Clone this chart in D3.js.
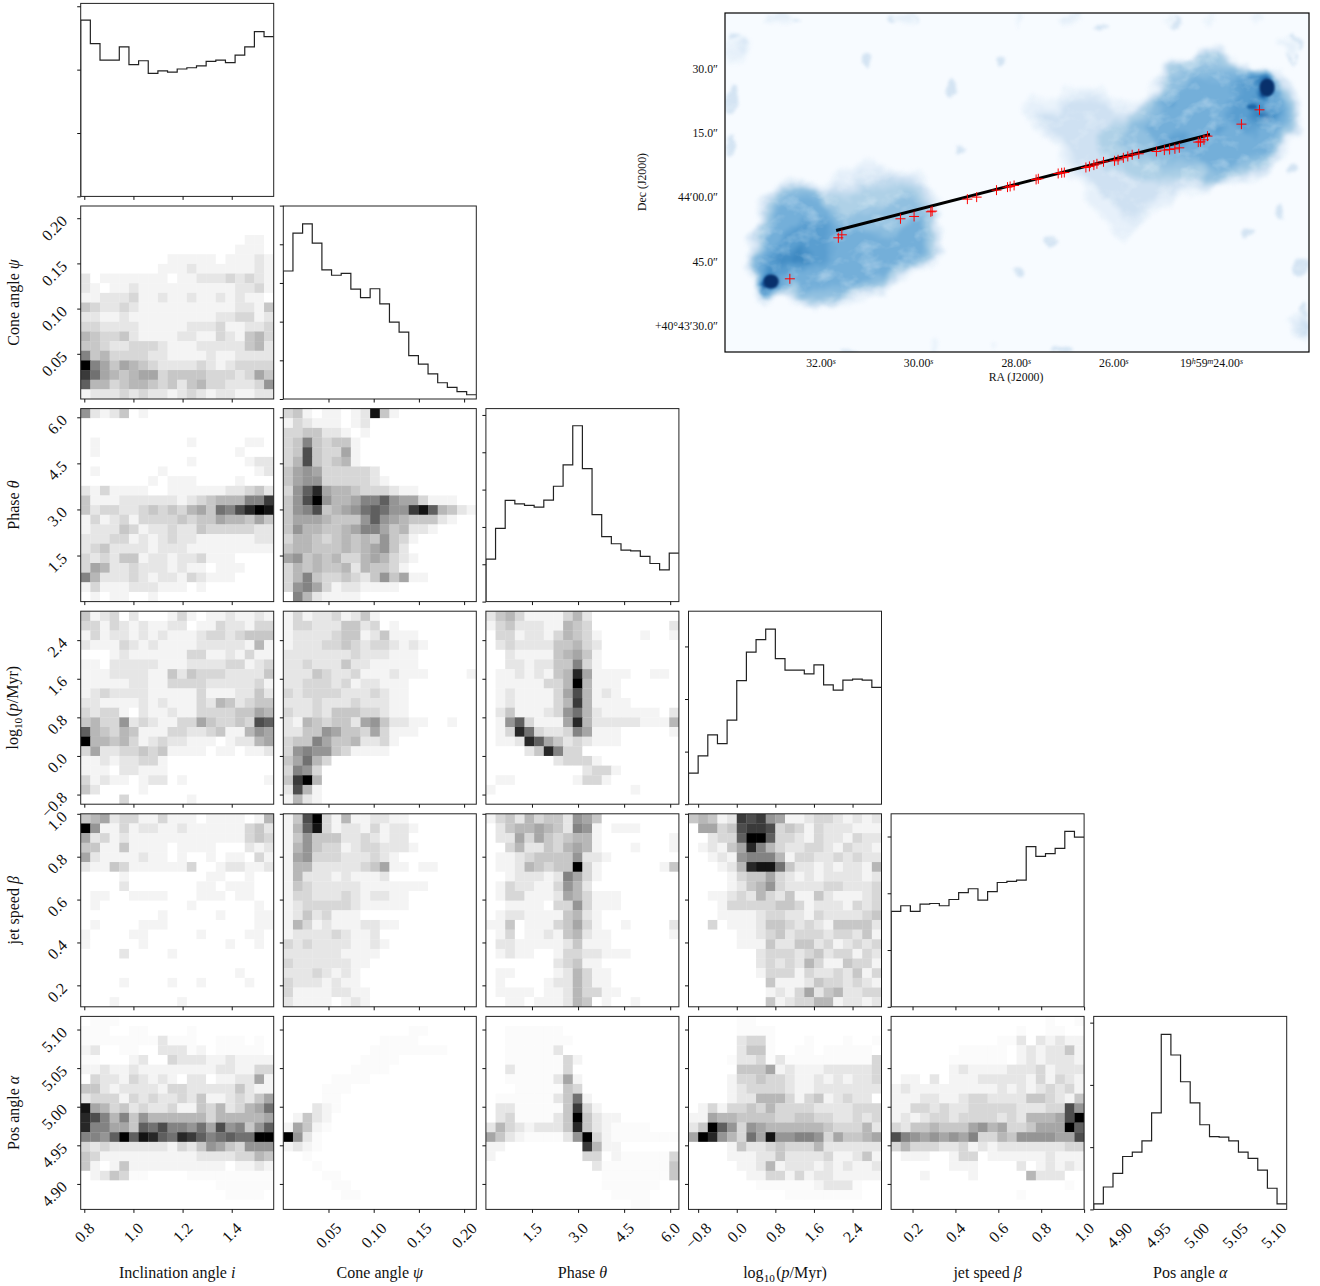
<!DOCTYPE html>
<html><head><meta charset="utf-8">
<script src="https://cdn.jsdelivr.net/npm/d3@7"></script>
<style>html,body{margin:0;padding:0;background:#fff}svg{display:block}text{font-family:"Liberation Serif",serif;fill:#111}</style>
</head><body><svg id="c" width="1320" height="1286"></svg>
<script>
const paramNames = ["i","psi","theta","logp","beta","alpha"];
const paramLabels = ["Inclination angle |i|","Cone angle |ψ|","Phase |θ|","log_10_(|p|/Myr)","jet speed |β|","Pos angle |α|"];
const domains = [[0.7854,1.5708],[0,0.2135],[0,6.2832],[-1,3],[0.1,1.0],[4.867,5.117]];
const ticksI = [0.8,1.0,1.2,1.4];
const ticksPsi = [0.05,0.10,0.15,0.20];
const ticksTheta = [1.5,3.0,4.5,6.0];
const ticksLogp = [-0.8,0.0,0.8,1.6,2.4];
const ticksBeta = [0.2,0.4,0.6,0.8,1.0];
const ticksAlpha = [4.90,4.95,5.00,5.05,5.10];
const tickDigits = [1,2,1,1,1,2];

const histI = [278,241,215,215,236,208,214,194,198,196,201,203,206,213,215,211,223,236,260,252];
const histPsi = [331,429,453,403,334,320,325,284,262,285,246,199,173,112,90,65,42,30,19,11];
const histTheta = [114,196,271,262,258,253,272,309,366,471,356,233,174,155,138,136,121,102,85,130];
const histLogp = [59,92,132,115,160,235,289,313,333,277,255,255,248,265,227,217,236,238,236,222];
const histBeta = [168,178,168,181,182,178,189,201,208,188,203,219,221,223,282,265,270,279,309,299];
const histAlpha = [9,36,58,85,92,110,155,281,248,205,171,136,117,116,110,92,82,63,34,9];
const histTop = [304.5,499,517,367,340,310];
const histTicks = [[0,100,200,300],[0,100,200,300,400,500],[0,100,200,300,400,500],[0,100,200,300],[0,100,200,300],[0,100,200,300]];

const psi_i = ["00000000000000000000","00000000000000000000","00000000000000000000","00000000000000000110","00000000000000001110","00000000011111011121","00000000111211111121","20111111101122232321","21011211111111112231","11222311211211212110","43223211111111112214","22112111111111223312","33222211111222311223","54334211112211321453","44322333211122222452","84533332211112112222","f8646543222232123333","c9654566344443332364","a5534554342453322237","12223232212321221122"];
const theta_i = ["72124010000000000000","00000000000000000000","00000000000000000000","01000000000100000110","01000000000000001000","00000000000100000122","01000000100000000012","00000001011100001000","21311110011111122342","4111222222123455588c","4233223434356498bdfe","13123133334344655464","12224312232243333322","22233121232211111122","23422221222111111111","32324412212231110000","36522322212110111000","85222321221321110000","13111222111010000000","01011001000000000000"];
const theta_psi = ["341011012e4100000000","13211101200000000000","33442210100000000000","34843441000000000000","34b43361000000000000","35b43451000000000000","46763333320000000000","46773333321000000000","37ad6554333211000000","47bf755688a766311100","478b45679a977cea5421","466654447a7654442100","47554456886452210000","35543454547431000000","45544454567420000000","67454533565321000000","35454452544310000000","35843343247461100000","37863122111100000000","08521111000000000000"];
const logp_i = ["41230200013101121121","33132121122011322133","13122121211123323444","21113212111122222151","00012111111331121311","11022222111222233123","11122221142433322224","11111221133332222231","12322221111131112242","22111121211132542344","32331021121133334465","453372321133643343ba","a5435411133223411576","f5545312322111012256","36223343411110110112","11212233100000000000","11102211100000000000","31211012201000000001","42000010000000000000","00003000000100000000"];
const logp_psi = ["13122312410000000000","13322244230100000000","12222344124111000000","12223343233212100000","22222223222111000000","22322242211111000000","22243223111211100001","22333231221110000000","32333322232110000000","22232223222110000000","32232444332110000000","21543442674221100100","22447644363111000000","34486445223100000000","37877431111000000000","46953000000000000000","38730000000000000000","4cf50000000000000000","2b510000000000000000","15210000000000000000"];
const logp_theta = ["24531111352000000000","13422211543000000002","03312213543100001001","02322224453200000000","00211114564100000000","00221224483100000000","011212145d6111100110","011111335f5111000000","012111136b5121000000","012111135c5111100000","02411123795211111102","017a31116d5222221115","013d9322386111000001","0112da64232111000000","000024d8330000000000","00000002333100000000","00000000002331000000","01100000013310000000","10000000000000010000","00000000000000000000"];
const beta_i = ["45623311311101111015","f7113122112111111342","62312111111111111343","44114111101111000212","62111121101001011031","21143111111300122112","00001000000001100100","00002000000011011100","01100111100011101100","01000000000100000010","00000000100000100011","01000011100000000011","10000110000010000110","10000010000000010010","00002000010000000000","00000000000000000000","00000000000000001000","00001000010010000100","00000000000000000000","00010000001000000000"];
const beta_psi = ["14bf3151122110000000","15ae3122131221000000","14744422321220000000","15743312332221000000","16733322232100000000","15522222346110110000","15222121112000000000","14322222111111100000","13322232122110000000","12333332111110000000","12423111000000000000","15312111221100000000","12222321120000000000","32322221121000000000","22222211110000000000","32222221100000000000","22232121000000000000","32221211000000000000","31111221100000000000","21111012100000000000"];
const beta_theta = ["13425344276400000000","02455654287101110000","02263643455100000001","00352243565100010001","01123444472210000000","011254344f3100000014","00122212863100000000","01322113752000000000","01331112653111000000","00111103373111000000","01221111452100000000","11401113463100100002","01301121452110000001","02211111241110000000","01211001332211100000","00000002341100000000","01100001253110000000","01000012253110000000","01111011253311000000","00110111254010010000"];
const beta_logp = ["45412cbc761123321212","06634bccb34313222111","00233affa33213221322","012146d8532233213221","00121788851332232322","000125dee94221212215","00001344632121222212","00001245732222332223","00112325324114211123","00013333344312221323","00011112332213222234","00301112443232144442","00000112342333233241","00000111422442312323","00000002333234233132","00000002323253114331","00000001333132232413","00000000411124332321","00000000121362452233","00000000412335512212"];
const alpha_i = ["0...0000000000000000","...00..0000.00000000","........2...00...0.0","1200..00222.10.....0","..000120032221121111","11211211111111221133","03221321210220112261","44212222133222224211","23331323223241123246","e6534232231143523569","db858475555553555556","d88664a9b88796b7847a","887afaeda9dca89a99ff","32322222213247643777","43111111111122223354","41014111111111101121","01243..0000.........","00000000000000......","000000000000000....0","00000000000000000000"];
const alpha_psi = ["00000000000000000000","0000000000000..00000","0000000000....000000","000000000........000","00000000....00000000","0000000....000000000","00000....00000000000","0000...0000000000000","0000..00000000000000","00021.00000000000000","01421000000000000000","1641.000000000000000","f72.0000000000000000","121.0000000000000000","00.00000000000000000","000.0000000000000000","0000..00000000000000","00000..0000000000000","000000..000000000000","00000000000000000000"];
const alpha_theta = ["00000000000000000000","00......000000000000","00.......00000000000","00.....2000000000000","00......310000000000","002.....300000000000","00.....2610000000000","000.....430000000000","0......2491000000000","022.....4c3100000000","023....24f4211000000","253212224d421....000","6421....27f31.......","1100000000c511000000","10000000003301.....3","000000000002.......4","000000000000.......4","000000000000......00","0000000000000....000","000000000000000..000"];
const alpha_logp = ["00000..0000000000000","00000....00000000000","00000233.000.000.00.","00000244.00..0.....0","0000.223.2.........3","00000444612111222223","00001334332112121223","00001233332112222222","00001225553134123220","01313343533332222333","11655444433443322323","24fa7376555555433352","6fd75396e77887364456","00001422343335222222","00001112242222311241","00000112512221212112","00000011331312211111","0000000......1222.00","0000000000........00","00000000000000000000"];
const alpha_beta = ["0000000000000000.00.","0000000000000.00..00","00000000000..2021211","0000000.....01212241","000000......01212221","00000012111122231222","01102011122222131321","12111111111212123231","11122112332222443214","113323223333322233b7","121233233332325556bf","324454446756334666fa","b876767683354777766b","35333223121222222233","01110013301111112111","00000011100002012121","00010000100000522200","000000000000000000.0","0000000000000.000000","00000000000000000000"];
const pairs = [
 [1,0,psi_i],[2,0,theta_i],[2,1,theta_psi],[3,0,logp_i],[3,1,logp_psi],[3,2,logp_theta],
 [4,0,beta_i],[4,1,beta_psi],[4,2,beta_theta],[4,3,beta_logp],
 [5,0,alpha_i],[5,1,alpha_psi],[5,2,alpha_theta],[5,3,alpha_logp],[5,4,alpha_beta]];

const raTicks = [32,30,28,26,24];
const raLabels = [["","32.00"],["","30.00"],["","28.00"],["","26.00"],["19h59m","24.00"]];
const decTicks = [30,15,0,-15,-30];
const decLabels = ["30.0″","15.0″","44′00.0″","45.0″","+40°43′30.0″"];
const jetLine = [[31.69,-7.7],[24.03,14.7]];
const knotRA = [32.638,31.645,31.573,30.372,30.093,29.75,29.723,29.001,28.811,28.405,28.179,28.125,28.044,27.593,27.548,27.141,27.069,27.015,26.573,26.501,26.41,26.347,26.212,25.986,25.914,25.806,25.715,25.625,25.49,25.129,24.966,24.858,24.75,24.66,24.271,24.226,24.154,24.082,23.387,23.017];
const knotDec = [-18.98,-9.41,-8.71,-4.97,-4.43,-3.34,-3.18,-0.38,0.09,1.72,2.42,2.58,2.81,4.21,4.37,5.61,5.77,5.84,7.01,7.25,7.56,7.87,8.33,8.57,8.8,9.27,9.58,9.97,10.2,10.75,11.06,11.21,11.37,11.6,12.93,13.0,13.47,14.33,17.13,20.47];
const hotRA = [22.86,33.02,23.17];
const hotDec = [25.7,-19.6,21.2];
const hotR = [[7.5,9],[7.5,7],[5,2.5]];
const patchRA = [33.74,33.84,32.84,30.32,24.73,22.29,22.39,29.32,31.08,22.14,22.10,25.89,27.96,33.84,31.41,27.06,23.27,27.3,28.33,26.28,22.6,22.39,29.15];
const patchDec = [35.96,22.65,41.3,41.8,40.9,35.96,32.7,25.4,31.5,-16.3,-28.7,-4.7,-17.7,11.7,-35.3,-35.3,-8.4,-10,32,39,-3,6.3,11];
const patchR = [[8,14],[6,15],[20,3],[14,6],[6,8],[6,8],[6,6],[5,10],[5,8],[6,10],[6,18],[8,8],[6,6],[5,12],[10,3],[10,3],[6,5],[5,4],[4,6],[8,3],[4,8],[5,6],[4,4]];
const skyColors = ["#f7fbff","#e6f0fa","#cfe1f2","#afd1e7","#91c0e0","#74afd9","#5a9ed0","#3d88c1","#1b62a8","#08306b"];
const skyGrid = [
"0001110000000011000000001000110000000100100010000",
"0000000000000000000000000000000000000000000000000",
"1200000000000000000000000000000000000000000000110",
"1100000000000000000000000000000000000003330000010",
"0000000000000000000000000000000000000344444300000",
"0000000000000000000000000000000000002445555678200",
"0000000000000000000000000000111100002455555669420",
"0000000000000000000000000111222211135655556676530",
"0000000000000000000000000122222222345555556678640",
"0000000000000000000000000012222233455555565665530",
"0000000000000000000000000001222334445665555555410",
"0000000000000000000000000000122333444555555555200",
"0000000000011000000000000000122233334444555443000",
"0000000001122222100000000000012222333333443210000",
"0000244312233333200000000000001222222211100000000",
"0002455533333344320000000000001122221100000000000",
"0003555554344444430000000000000112210000000000000",
"0004556665544445530000000000000011100000000000000",
"0035566665555555530000000000000001000000000000000",
"0025667665555555530000000000000000000000000000000",
"0046777665555555410000000000000000000000000000000",
"0027655555555531000000000000000000000000000000000",
"0009635555554300000000000000000000000000000000000",
"0002024444210000000000000000000000000000000000000",
"0000000100000000000000000000000000000000000000000",
"0000000000000000000000000000000000000000000000012",
"0000000000000000000000000000000000000000000000002",
"0000000000000000010000100000000000000000000000000"];

/* ---------- layout ---------- */
const svg = d3.select("#c");
const P = 193, STEP = 202.6, X0 = 80.7, Y0 = 3.4;
const left = c => X0 + c*STEP, top_ = r => Y0 + r*STEP;
const xS = domains.map(d => d3.scaleLinear().domain(d).range([0,P]));
const yS = domains.map(d => d3.scaleLinear().domain(d).range([P,0]));
const band = d3.scaleBand().domain(d3.range(20)).range([0,P]);
const grey = d3.scalePow().exponent(1.15).domain([0,15]).range([1,0]);
const allTicks = [ticksI,ticksPsi,ticksTheta,ticksLogp,ticksBeta,ticksAlpha];
const hists = [histI,histPsi,histTheta,histLogp,histBeta,histAlpha];
const fmt = (v,k) => { const s = Math.abs(v).toFixed(tickDigits[k]); return v<0 ? "−"+s : s; };
const FS = 16;

svg.append("defs").append("clipPath").attr("id","pclip").append("rect").attr("width",P).attr("height",P);

function axes(g,r,c){
  const ax = d3.axisBottom(xS[c]).tickValues(allTicks[c]).tickSize(3.5).tickSizeOuter(0).tickFormat("");
  const gx = g.append("g").attr("transform",`translate(0,${P})`).call(ax);
  gx.select(".domain").remove();
  return gx;
}
function styleTicks(sel){ sel.selectAll("line").attr("stroke","#111").attr("stroke-width",1); }
function frame(g){ g.append("rect").attr("width",P).attr("height",P).attr("fill","none").attr("stroke","#222").attr("stroke-width",1); }

/* diagonal histograms */
hists.forEach((h,k) => {
  const g = svg.append("g").attr("transform",`translate(${left(k)},${top_(k)})`);
  const y = d3.scaleLinear().domain([0,histTop[k]]).range([P,0]);
  const edge = d3.scaleLinear().domain([0,20]).range([0,P]);
  const pts = [[0,0]].concat(h.map((v,i)=>[i,v])).concat([[20,h[19]]]);
  const line = d3.line().curve(d3.curveStepAfter).x(d=>edge(d[0])).y(d=>y(d[1]));
  g.append("path").attr("d",line(pts)).attr("fill","none").attr("stroke","#222").attr("stroke-width",1.2).attr("clip-path","url(#pclip)");
  frame(g);
  const gy = g.append("g").call(d3.axisLeft(y).tickValues(histTicks[k]).tickSize(3.5).tickSizeOuter(0).tickFormat(""));
  gy.select(".domain").remove(); styleTicks(gy);
  if(k<5) styleTicks(axes(g,k,k));
});

/* 2-D histograms: "." is a barely visible cell, hex digits are darker levels */
pairs.forEach(([r,c,rows]) => {
  const g = svg.append("g").attr("transform",`translate(${left(c)},${top_(r)})`);
  const cells = [];
  rows.forEach((s,j)=>s.split("").forEach((ch,i)=>cells.push({i,j,v:ch==="."?0.4:parseInt(ch,16)})));
  g.selectAll("rect.cell").data(cells).join("rect").attr("class","cell")
    .attr("x",d=>band(d.i)).attr("y",d=>band(d.j)).attr("width",band.bandwidth()+0.3).attr("height",band.bandwidth()+0.3)
    .attr("clip-path","url(#pclip)")
    .attr("fill",d=>{const q=Math.round(255*grey(d.v));return d3.rgb(q,q,q);});
  frame(g);
  const gy = g.append("g").call(d3.axisLeft(yS[r]).tickValues(allTicks[r]).tickSize(3.5).tickSizeOuter(0).tickFormat(""));
  gy.select(".domain").remove(); styleTicks(gy);
  styleTicks(axes(g,r,c));
});

/* tick labels */
function addRich(t,spec){
  spec.split("|").forEach((part,idx)=>{
    if(idx%2===1){ t.append("tspan").attr("font-style","italic").text(part); return; }
    part.split("_").forEach((p,n)=>{
      if(n%2===1){ t.append("tspan").attr("font-size",FS*0.7).attr("dy",4).text(p); t.append("tspan").attr("dy",-4).text("\u200a"); }
      else if(p) t.append("tspan").text(p);
    });
  });
}
paramNames.forEach((n,c)=>{
  const g = svg.append("g").attr("transform",`translate(${left(c)},${top_(5)+P})`);
  allTicks[c].forEach(v=>{
    const t = g.append("text").attr("font-size",FS).attr("text-anchor","middle").attr("dy","0.35em").text(fmt(v,c));
    const w = t.node().getComputedTextLength();
    t.attr("transform",`translate(${xS[c](v)},${12.5+(w+10)*0.354}) rotate(-45)`);
  });
  const lab = svg.append("text").attr("font-size",FS).attr("text-anchor","middle")
    .attr("x",left(c)+P/2).attr("y",1278);
  addRich(lab,paramLabels[c]);
});
paramNames.forEach((n,r)=>{
  if(r===0) return;
  const g = svg.append("g").attr("transform",`translate(${left(0)},${top_(r)})`);
  allTicks[r].forEach(v=>{
    g.append("text").attr("font-size",FS).attr("text-anchor","end").attr("dy","0.35em")
      .attr("transform",`translate(-16.5,${yS[r](v)}) rotate(-45)`).text(fmt(v,r));
  });
  const lab = svg.append("text").attr("font-size",FS).attr("text-anchor","middle")
    .attr("transform",`translate(${r===3?17.5:19},${top_(r)+P/2}) rotate(-90)`);
  addRich(lab,paramLabels[r]);
});

/* radio image inset */
const IX0=725, IX1=1309, IY0=13, IY1=352;
const raS = d3.scaleLinear().domain([32,24]).range([821,1211.5]);
const decS = d3.scaleLinear().domain([30,-30]).range([69,326]);
const img = svg.append("g");
const defs = svg.select("defs");
defs.append("clipPath").attr("id","iclip").append("rect").attr("x",IX0).attr("y",IY0).attr("width",IX1-IX0).attr("height",IY1-IY0);
const f = defs.append("filter").attr("id","wisp").attr("filterUnits","userSpaceOnUse")
  .attr("color-interpolation-filters","sRGB")
  .attr("x",IX0-20).attr("y",IY0-20).attr("width",IX1-IX0+40).attr("height",IY1-IY0+40);
f.append("feTurbulence").attr("type","fractalNoise").attr("baseFrequency","0.04 0.05").attr("numOctaves",4).attr("seed",4).attr("result","n");
f.append("feDisplacementMap").attr("in","SourceGraphic").attr("in2","n").attr("scale",16).attr("xChannelSelector","R").attr("yChannelSelector","G").attr("result","d");
f.append("feGaussianBlur").attr("in","d").attr("stdDeviation",1.5).attr("result","b");
f.append("feTurbulence").attr("type","fractalNoise").attr("baseFrequency","0.05 0.07").attr("numOctaves",3).attr("seed",9).attr("result","n2");
f.append("feColorMatrix").attr("in","n2").attr("type","matrix")
  .attr("values","0 0 0 0 0  0 0 0 0 0  0 0 0 0 0  0.8 0 0 0 0.6").attr("result","mask");
f.append("feComposite").attr("in","b").attr("in2","mask").attr("operator","in");

img.append("rect").attr("x",IX0).attr("y",IY0).attr("width",IX1-IX0).attr("height",IY1-IY0).attr("fill",skyColors[0]);
const nCols = skyGrid[0].length, nRows = skyGrid.length;
const values = skyGrid.join("").split("").map(Number);
const gx = d3.scaleLinear().domain([0,nCols]).range([IX0,IX1]);
const gy = d3.scaleLinear().domain([0,nRows]).range([IY0,IY1]);
const contourPath = d3.geoPath(d3.geoTransform({point(x,y){this.stream.point(gx(x),gy(y));}}));
const skyColor = d3.scaleLinear().domain(d3.range(10)).range(skyColors);
const levels = d3.range(0.5,9,0.25);
const cont = d3.contours().size([nCols,nRows]).smooth(true).thresholds(levels)(values);
const sky = img.append("g").attr("clip-path","url(#iclip)").append("g").attr("filter","url(#wisp)");
sky.selectAll("ellipse.p").data(patchRA.map((ra,i)=>({ra,dec:patchDec[i],r:patchR[i]}))).join("ellipse").attr("class","p")
  .attr("cx",d=>raS(d.ra)).attr("cy",d=>decS(d.dec)).attr("rx",d=>d.r[0]).attr("ry",d=>d.r[1]).attr("fill","#d4e4f3");
sky.selectAll("path").data(cont).join("path").attr("d",contourPath).attr("fill",d=>skyColor(d.value));

const hot = img.append("g").attr("clip-path","url(#iclip)");
hot.selectAll("ellipse").data(hotRA.map((ra,i)=>({ra,dec:hotDec[i],r:hotR[i]}))).join("ellipse")
  .attr("cx",d=>raS(d.ra)).attr("cy",d=>decS(d.dec)).attr("rx",d=>d.r[0]).attr("ry",d=>d.r[1])
  .attr("fill",(d,i)=>i===2?"#1d66a8":skyColors[9]).style("filter","blur(1.2px)");

const imgTop = img.append("g").attr("clip-path","url(#iclip)");
imgTop.append("path").attr("d",d3.line().x(d=>raS(d[0])).y(d=>decS(d[1]))(jetLine)).attr("stroke","#000").attr("stroke-width",3).attr("fill","none");
const knots = knotRA.map((ra,i)=>[ra,knotDec[i]]);
imgTop.selectAll("path.k").data(knots).join("path").attr("class","k")
  .attr("d",d=>{const x=raS(d[0]),y=decS(d[1]);return `M${x-5},${y}H${x+5}M${x},${y-5}V${y+5}`;})
  .attr("stroke","#f00").attr("stroke-width",1).attr("fill","none");
img.append("rect").attr("x",IX0).attr("y",IY0).attr("width",IX1-IX0).attr("height",IY1-IY0).attr("fill","none").attr("stroke","#000").attr("stroke-width",1.2);

const FI = 11.8;
raTicks.forEach((v,i)=>{
  const t = img.append("text").attr("font-size",FI).attr("text-anchor","middle").attr("x",raS(v)).attr("y",367);
  const [pre,val] = raLabels[i];
  if(pre){
    t.append("tspan").text("19");
    t.append("tspan").attr("font-size",8).attr("font-style","italic").attr("dy",-3.5).text("h");
    t.append("tspan").attr("dy",3.5).text("59");
    t.append("tspan").attr("font-size",8).attr("font-style","italic").attr("dy",-3.5).text("m");
    t.append("tspan").attr("dy",3.5).text(val);
  } else t.append("tspan").text(val);
  t.append("tspan").attr("font-size",8).attr("font-style","italic").attr("dy",-3.5).text("s");
});
decTicks.forEach((v,i)=>{
  img.append("text").attr("font-size",FI).attr("text-anchor","end").attr("x",718).attr("y",decS(v)+3.8).text(decLabels[i]);
});
img.append("text").attr("font-size",FI).attr("text-anchor","middle").attr("x",1016).attr("y",381).text("RA (J2000)");
img.append("text").attr("font-size",FI).attr("text-anchor","middle").attr("transform","translate(646,182) rotate(-90)").text("Dec (J2000)");
</script></body></html>
